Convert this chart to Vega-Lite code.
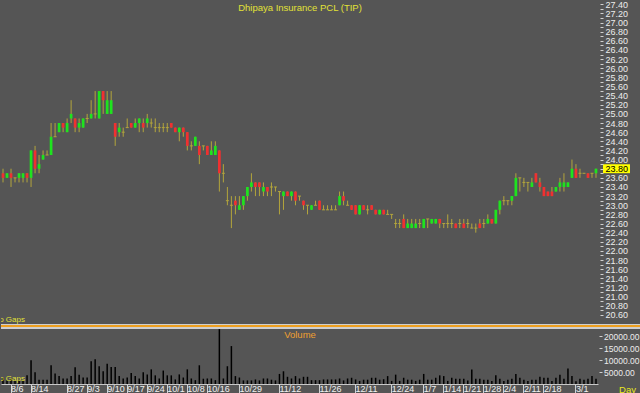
{
  "$schema": "https://vega.github.io/schema/vega-lite/v6.json",
  "background": "#555555",
  "padding": 0,
  "spacing": 0,
  "config": {
    "view": {"stroke": null},
    "axis": {"labelFont": "Liberation Sans", "titleFont": "Liberation Sans", "grid": false, "labelOverlap": false, "labelBound": false},
    "text": {"font": "Liberation Sans"}
  },
  "data": {"values": [
    {"d":"8/2","o":23.7,"h":23.8,"l":23.5,"c":23.6,"v":2500},
    {"d":"8/3","o":23.6,"h":23.7,"l":23.6,"c":23.7,"v":1500},
    {"d":"8/6","o":23.7,"h":23.8,"l":23.4,"c":23.6,"v":2300},
    {"d":"8/7","o":23.6,"h":23.6,"l":23.5,"c":23.6,"v":1400},
    {"d":"8/8","o":23.6,"h":23.7,"l":23.5,"c":23.7,"v":1600},
    {"d":"8/9","o":23.6,"h":23.7,"l":23.5,"c":23.7,"v":1500},
    {"d":"8/10","o":23.7,"h":23.7,"l":23.5,"c":23.6,"v":3600},
    {"d":"8/14","o":23.6,"h":24.2,"l":23.4,"c":24.2,"v":9900},
    {"d":"8/15","o":24.2,"h":24.3,"l":23.7,"c":23.8,"v":4900},
    {"d":"8/16","o":23.8,"h":24.1,"l":23.7,"c":23.9,"v":1800},
    {"d":"8/17","o":24.0,"h":24.2,"l":24.0,"c":24.1,"v":1800},
    {"d":"8/20","o":24.1,"h":24.2,"l":24.1,"c":24.1,"v":1800},
    {"d":"8/21","o":24.1,"h":24.8,"l":24.1,"c":24.5,"v":7800},
    {"d":"8/22","o":24.5,"h":24.8,"l":24.5,"c":24.5,"v":4400},
    {"d":"8/23","o":24.6,"h":24.8,"l":24.6,"c":24.8,"v":3300},
    {"d":"8/24","o":24.8,"h":24.8,"l":24.6,"c":24.7,"v":2300},
    {"d":"8/27","o":24.6,"h":24.9,"l":24.6,"c":24.8,"v":2300},
    {"d":"8/28","o":24.9,"h":25.3,"l":24.8,"c":25.0,"v":3300},
    {"d":"8/29","o":24.9,"h":24.9,"l":24.6,"c":24.7,"v":7000},
    {"d":"8/30","o":24.7,"h":24.9,"l":24.6,"c":24.8,"v":3900},
    {"d":"8/31","o":24.7,"h":24.9,"l":24.7,"c":24.9,"v":2700},
    {"d":"9/3","o":24.9,"h":25.0,"l":24.8,"c":24.9,"v":2700},
    {"d":"9/4","o":24.9,"h":25.3,"l":24.9,"c":25.0,"v":9500},
    {"d":"9/5","o":25.0,"h":25.5,"l":24.9,"c":25.0,"v":10300},
    {"d":"9/6","o":24.9,"h":25.5,"l":24.9,"c":25.5,"v":7400},
    {"d":"9/7","o":25.5,"h":25.5,"l":25.0,"c":25.3,"v":5300},
    {"d":"9/10","o":25.0,"h":25.5,"l":25.0,"c":25.3,"v":8400},
    {"d":"9/11","o":25.0,"h":25.5,"l":25.0,"c":25.3,"v":7100},
    {"d":"9/12","o":24.8,"h":24.8,"l":24.3,"c":24.5,"v":7100},
    {"d":"9/13","o":24.6,"h":24.8,"l":24.5,"c":24.7,"v":3300},
    {"d":"9/14","o":24.6,"h":24.7,"l":24.5,"c":24.6,"v":2300},
    {"d":"9/17","o":24.7,"h":24.9,"l":24.7,"c":24.7,"v":2700},
    {"d":"9/18","o":24.8,"h":24.8,"l":24.7,"c":24.7,"v":4600},
    {"d":"9/19","o":24.7,"h":24.9,"l":24.7,"c":24.8,"v":3300},
    {"d":"9/20","o":24.8,"h":24.9,"l":24.6,"c":24.9,"v":2300},
    {"d":"9/21","o":24.8,"h":24.9,"l":24.6,"c":24.7,"v":4900},
    {"d":"9/24","o":24.8,"h":25.0,"l":24.7,"c":24.9,"v":4000},
    {"d":"9/25","o":24.8,"h":24.9,"l":24.7,"c":24.8,"v":6100},
    {"d":"9/26","o":24.7,"h":24.9,"l":24.6,"c":24.7,"v":3600},
    {"d":"9/27","o":24.7,"h":24.8,"l":24.6,"c":24.7,"v":2300},
    {"d":"9/28","o":24.7,"h":24.8,"l":24.6,"c":24.7,"v":5600},
    {"d":"10/1","o":24.7,"h":24.8,"l":24.6,"c":24.7,"v":3600},
    {"d":"10/2","o":24.8,"h":24.8,"l":24.7,"c":24.7,"v":3600},
    {"d":"10/3","o":24.7,"h":24.7,"l":24.6,"c":24.6,"v":1900},
    {"d":"10/4","o":24.6,"h":24.7,"l":24.4,"c":24.7,"v":4000},
    {"d":"10/5","o":24.7,"h":24.7,"l":24.5,"c":24.6,"v":2700},
    {"d":"10/8","o":24.6,"h":24.6,"l":24.2,"c":24.3,"v":6100},
    {"d":"10/9","o":24.3,"h":24.4,"l":24.2,"c":24.3,"v":2300},
    {"d":"10/10","o":24.3,"h":24.5,"l":24.3,"c":24.5,"v":1600},
    {"d":"10/11","o":24.3,"h":24.4,"l":23.9,"c":24.1,"v":7800},
    {"d":"10/12","o":24.3,"h":24.3,"l":24.2,"c":24.3,"v":2200},
    {"d":"10/16","o":24.3,"h":24.3,"l":24.1,"c":24.1,"v":2300},
    {"d":"10/17","o":24.1,"h":24.4,"l":24.1,"c":24.2,"v":2300},
    {"d":"10/18","o":24.1,"h":24.4,"l":24.1,"c":24.3,"v":1600},
    {"d":"10/19","o":24.2,"h":24.2,"l":23.3,"c":23.7,"v":22900},
    {"d":"10/22","o":23.7,"h":23.9,"l":23.5,"c":23.7,"v":2300},
    {"d":"10/24","o":23.1,"h":23.4,"l":23.0,"c":23.1,"v":7400},
    {"d":"10/25","o":23.0,"h":23.2,"l":22.5,"c":23.0,"v":15800},
    {"d":"10/26","o":23.1,"h":23.2,"l":22.8,"c":23.0,"v":3300},
    {"d":"10/29","o":22.9,"h":23.2,"l":22.9,"c":23.0,"v":2700},
    {"d":"10/30","o":23.0,"h":23.2,"l":22.9,"c":23.2,"v":1500},
    {"d":"10/31","o":23.2,"h":23.4,"l":23.1,"c":23.4,"v":1500},
    {"d":"11/1","o":23.4,"h":23.7,"l":23.3,"c":23.5,"v":1500},
    {"d":"11/2","o":23.5,"h":23.5,"l":23.2,"c":23.4,"v":1900},
    {"d":"11/5","o":23.5,"h":23.5,"l":23.2,"c":23.4,"v":1500},
    {"d":"11/6","o":23.3,"h":23.5,"l":23.2,"c":23.4,"v":2300},
    {"d":"11/7","o":23.4,"h":23.4,"l":23.2,"c":23.3,"v":2300},
    {"d":"11/8","o":23.4,"h":23.5,"l":23.2,"c":23.4,"v":1800},
    {"d":"11/9","o":23.4,"h":23.4,"l":23.3,"c":23.4,"v":1500},
    {"d":"11/12","o":23.3,"h":23.3,"l":22.8,"c":23.3,"v":4200},
    {"d":"11/13","o":23.2,"h":23.3,"l":22.9,"c":23.3,"v":5300},
    {"d":"11/14","o":23.3,"h":23.3,"l":23.2,"c":23.2,"v":3000},
    {"d":"11/15","o":23.2,"h":23.3,"l":23.1,"c":23.3,"v":2300},
    {"d":"11/16","o":23.3,"h":23.3,"l":23.0,"c":23.1,"v":3300},
    {"d":"11/19","o":23.2,"h":23.2,"l":23.1,"c":23.2,"v":2300},
    {"d":"11/20","o":23.1,"h":23.1,"l":22.9,"c":23.0,"v":3000},
    {"d":"11/21","o":23.0,"h":23.0,"l":22.8,"c":23.0,"v":3000},
    {"d":"11/22","o":22.9,"h":23.0,"l":22.9,"c":23.0,"v":1600},
    {"d":"11/23","o":23.0,"h":23.1,"l":23.0,"c":23.0,"v":1600},
    {"d":"11/26","o":23.1,"h":23.1,"l":22.9,"c":22.9,"v":1600},
    {"d":"11/27","o":22.9,"h":23.0,"l":22.9,"c":22.9,"v":1900},
    {"d":"11/28","o":22.9,"h":23.0,"l":22.9,"c":22.9,"v":1900},
    {"d":"11/29","o":22.9,"h":23.0,"l":22.9,"c":22.9,"v":1900},
    {"d":"11/30","o":22.9,"h":23.0,"l":22.9,"c":22.9,"v":1900},
    {"d":"12/3","o":23.0,"h":23.3,"l":23.0,"c":23.2,"v":2300},
    {"d":"12/4","o":23.2,"h":23.3,"l":23.0,"c":23.1,"v":1500},
    {"d":"12/6","o":23.0,"h":23.1,"l":23.0,"c":23.0,"v":2300},
    {"d":"12/7","o":23.0,"h":23.0,"l":22.9,"c":22.9,"v":2600},
    {"d":"12/11","o":23.0,"h":23.0,"l":22.8,"c":22.8,"v":1900},
    {"d":"12/12","o":22.8,"h":23.0,"l":22.8,"c":23.0,"v":1300},
    {"d":"12/13","o":23.0,"h":23.0,"l":22.9,"c":22.9,"v":1800},
    {"d":"12/14","o":22.9,"h":23.0,"l":22.8,"c":22.9,"v":1800},
    {"d":"12/17","o":23.0,"h":23.0,"l":22.9,"c":22.9,"v":2600},
    {"d":"12/18","o":22.9,"h":22.9,"l":22.8,"c":22.8,"v":2600},
    {"d":"12/19","o":22.8,"h":22.9,"l":22.8,"c":22.9,"v":1800},
    {"d":"12/20","o":22.9,"h":22.9,"l":22.8,"c":22.8,"v":2000},
    {"d":"12/21","o":22.8,"h":22.9,"l":22.8,"c":22.8,"v":3300},
    {"d":"12/24","o":22.8,"h":22.8,"l":22.7,"c":22.8,"v":1300},
    {"d":"12/25","o":22.6,"h":22.7,"l":22.5,"c":22.6,"v":3900},
    {"d":"12/26","o":22.6,"h":22.7,"l":22.5,"c":22.6,"v":1300},
    {"d":"12/27","o":22.7,"h":22.8,"l":22.5,"c":22.5,"v":2600},
    {"d":"12/28","o":22.5,"h":22.7,"l":22.5,"c":22.6,"v":1800},
    {"d":"1/2","o":22.5,"h":22.7,"l":22.5,"c":22.6,"v":1800},
    {"d":"1/3","o":22.5,"h":22.7,"l":22.5,"c":22.6,"v":1300},
    {"d":"1/4","o":22.6,"h":22.7,"l":22.5,"c":22.6,"v":1800},
    {"d":"1/7","o":22.5,"h":22.7,"l":22.5,"c":22.7,"v":4200},
    {"d":"1/8","o":22.7,"h":22.7,"l":22.5,"c":22.7,"v":1800},
    {"d":"1/9","o":22.6,"h":22.7,"l":22.6,"c":22.7,"v":1800},
    {"d":"1/10","o":22.6,"h":22.7,"l":22.6,"c":22.7,"v":2600},
    {"d":"1/11","o":22.7,"h":22.7,"l":22.5,"c":22.6,"v":3600},
    {"d":"1/14","o":22.6,"h":22.6,"l":22.5,"c":22.6,"v":3300},
    {"d":"1/15","o":22.6,"h":22.8,"l":22.5,"c":22.6,"v":1300},
    {"d":"1/16","o":22.6,"h":22.7,"l":22.5,"c":22.6,"v":2600},
    {"d":"1/17","o":22.6,"h":22.6,"l":22.5,"c":22.5,"v":2200},
    {"d":"1/18","o":22.6,"h":22.7,"l":22.5,"c":22.6,"v":2200},
    {"d":"1/21","o":22.6,"h":22.7,"l":22.5,"c":22.5,"v":2200},
    {"d":"1/22","o":22.6,"h":22.7,"l":22.5,"c":22.6,"v":1500},
    {"d":"1/23","o":22.5,"h":22.6,"l":22.5,"c":22.5,"v":6000},
    {"d":"1/24","o":22.5,"h":22.6,"l":22.4,"c":22.5,"v":2200},
    {"d":"1/25","o":22.6,"h":22.7,"l":22.5,"c":22.5,"v":2200},
    {"d":"1/28","o":22.6,"h":22.7,"l":22.5,"c":22.6,"v":1800},
    {"d":"1/29","o":22.6,"h":22.8,"l":22.6,"c":22.7,"v":1800},
    {"d":"1/30","o":22.7,"h":22.7,"l":22.6,"c":22.6,"v":1300},
    {"d":"1/31","o":22.6,"h":22.9,"l":22.6,"c":22.9,"v":3600},
    {"d":"2/1","o":22.9,"h":23.1,"l":22.8,"c":23.1,"v":2200},
    {"d":"2/4","o":23.1,"h":23.2,"l":23.0,"c":23.1,"v":1300},
    {"d":"2/5","o":23.1,"h":23.1,"l":23.0,"c":23.1,"v":1800},
    {"d":"2/6","o":23.1,"h":23.2,"l":23.0,"c":23.2,"v":2200},
    {"d":"2/7","o":23.2,"h":23.7,"l":23.2,"c":23.6,"v":4200},
    {"d":"2/8","o":23.6,"h":23.6,"l":23.3,"c":23.6,"v":2600},
    {"d":"2/11","o":23.5,"h":23.6,"l":23.4,"c":23.5,"v":1800},
    {"d":"2/12","o":23.5,"h":23.5,"l":23.3,"c":23.5,"v":1300},
    {"d":"2/13","o":23.4,"h":23.6,"l":23.4,"c":23.5,"v":1800},
    {"d":"2/14","o":23.7,"h":23.7,"l":23.5,"c":23.5,"v":1800},
    {"d":"2/15","o":23.5,"h":23.6,"l":23.3,"c":23.4,"v":3000},
    {"d":"2/18","o":23.4,"h":23.4,"l":23.2,"c":23.2,"v":2600},
    {"d":"2/20","o":23.3,"h":23.3,"l":23.2,"c":23.2,"v":2600},
    {"d":"2/21","o":23.3,"h":23.4,"l":23.2,"c":23.2,"v":1300},
    {"d":"2/22","o":23.3,"h":23.4,"l":23.3,"c":23.4,"v":2600},
    {"d":"2/25","o":23.4,"h":23.6,"l":23.3,"c":23.5,"v":3900},
    {"d":"2/26","o":23.4,"h":23.7,"l":23.3,"c":23.5,"v":2200},
    {"d":"2/27","o":23.4,"h":23.5,"l":23.4,"c":23.5,"v":6500},
    {"d":"2/28","o":23.6,"h":24.0,"l":23.6,"c":23.8,"v":3300},
    {"d":"3/1","o":23.8,"h":23.9,"l":23.6,"c":23.6,"v":1100},
    {"d":"3/4","o":23.7,"h":23.8,"l":23.6,"c":23.7,"v":2200},
    {"d":"3/5","o":23.7,"h":23.7,"l":23.7,"c":23.7,"v":1800},
    {"d":"3/6","o":23.7,"h":23.7,"l":23.6,"c":23.6,"v":2200},
    {"d":"3/7","o":23.7,"h":23.7,"l":23.6,"c":23.7,"v":3300},
    {"d":"3/8","o":23.7,"h":23.8,"l":23.6,"c":23.8,"v":2200}
  ]},
  "vconcat": [
    {
      "width": 640,
      "height": 323,
      "layer": [
        {
          "mark": {"type": "rule", "color": "#b3a53c", "strokeWidth": 1},
          "encoding": {
            "x": {"field": "d", "type": "ordinal", "sort": null, "scale": {"paddingInner": 0, "paddingOuter": 0, "range": [0, 597]}, "axis": null},
            "y": {"field": "l", "type": "quantitative", "scale": {"domain": [20.4, 27.472], "nice": false, "zero": false},
              "axis": {"orient": "right", "offset": -41, "domain": false, "tickSize": 3, "tickCount": 200, "tickColor": "#d0d0d0", "labelFontSize": 9, "labelPadding": 2, "labelOverlap": false, "zindex": 1,
                "values": [20.6,20.7,20.8,20.9,21.0,21.1,21.2,21.3,21.4,21.5,21.6,21.7,21.8,21.9,22.0,22.1,22.2,22.3,22.4,22.5,22.6,22.7,22.8,22.9,23.0,23.1,23.2,23.3,23.4,23.5,23.6,23.7,23.8,23.9,24.0,24.1,24.2,24.3,24.4,24.5,24.6,24.7,24.8,24.9,25.0,25.1,25.2,25.3,25.4,25.5,25.6,25.7,25.8,25.9,26.0,26.1,26.2,26.3,26.4,26.5,26.6,26.7,26.8,26.9,27.0,27.1,27.2,27.3,27.4],
                "labelExpr": "round(datum.value*10) % 2 == 0 ? format(datum.value, '.2f') : ''",
                "labelColor": {"condition": {"test": "abs(datum.value - 23.8) < 0.001", "value": "#000000"}, "value": "#ececec"},
                "title": "Dhipaya Insurance PCL (TIP)", "titleAngle": 0, "titleX": -300.5, "titleY": 9, "titleAlign": "center", "titleBaseline": "alphabetic", "titleColor": "#e2e236", "titleFontSize": 9.5, "titleFontWeight": "normal"}},
            "y2": {"field": "h"}
          }
        },
        {
          "transform": [{"filter": "datum.o != datum.c"}],
          "mark": {"type": "bar", "width": {"band": 0.68}},
          "encoding": {
            "x": {"field": "d", "type": "ordinal", "sort": null},
            "y": {"field": "o", "type": "quantitative"},
            "y2": {"field": "c"},
            "color": {"condition": {"test": "datum.c > datum.o", "value": "#1ee41e"}, "value": "#f03030"}
          }
        },
        {
          "transform": [{"filter": "datum.o == datum.c"}],
          "mark": {"type": "tick", "color": "#b3a53c", "size": 3, "thickness": 1, "opacity": 1},
          "encoding": {
            "x": {"field": "d", "type": "ordinal", "sort": null},
            "y": {"field": "c", "type": "quantitative"}
          }
        },
        {
          "transform": [{"filter": "datum.d == '3/8'"}],
          "mark": {"type": "point", "shape": "M-1,-0.33H1V0.33H-1Z", "size": 729, "filled": true, "color": "#ffff00", "opacity": 1, "strokeWidth": 0, "xOffset": 20.5},
          "encoding": {
            "x": {"field": "d", "type": "ordinal", "sort": null},
            "y": {"field": "c", "type": "quantitative"}
          }
        },
        {
          "transform": [{"filter": "datum.d == '8/2'"}],
          "mark": {"type": "text", "text": "No Gaps", "color": "#e2e236", "fontSize": 8, "align": "right", "baseline": "alphabetic", "dx": 22, "clip": true},
          "encoding": {
            "x": {"field": "d", "type": "ordinal", "sort": null},
            "y": {"datum": 20.45}
          }
        }
      ]
    },
    {
      "width": 640,
      "height": 60,
      "layer": [
        {
          "mark": {"type": "bar", "color": "#000000", "size": 1.5},
          "encoding": {
            "x": {"field": "d", "type": "ordinal", "sort": null, "scale": {"paddingInner": 0, "paddingOuter": 0, "range": [0, 597]},
              "axis": {"values": ["8/6","8/14","8/27","9/3","9/10","9/17","9/24","10/1","10/8","10/16","10/29","11/12","11/26","12/11","12/24","1/7","1/14","1/21","1/28","2/4","2/11","2/18","3/1"],
                "labelAngle": 0, "labelAlign": "left", "labelDx": 1.5, "labelBaseline": "alphabetic", "labelPadding": -3.2, "tickSize": 11, "tickColor": "#d0d0d0", "domainColor": "#c8c8c8", "labelColor": "#f0f0f0", "labelFontSize": 9, "labelOverlap": false,
                "title": "Day", "titleColor": "#eaea20", "titleFontSize": 9.5, "titleFontWeight": "normal", "titleX": 626, "titleY": 8, "titleBaseline": "alphabetic", "titleAlign": "center", "zindex": 1}},
            "y": {"field": "v", "type": "quantitative", "scale": {"domain": [0, 25000], "nice": false},
              "axis": {"orient": "right", "offset": -42, "values": [5000, 10000, 15000, 20000], "tickCount": 20, "format": ".2f", "domain": false, "tickSize": 3, "tickColor": "#d0d0d0", "labelColor": "#ececec", "labelFontSize": 8.5, "labelPadding": 1.5, "labelOverlap": false, "zindex": 1,
                "title": "Volume", "titleAngle": 0, "titleX": -299.5, "titleY": 13.5, "titleAlign": "center", "titleBaseline": "alphabetic", "titleColor": "#f0a030", "titleFontSize": 9.5, "titleFontWeight": "normal"}}
          }
        },
        {
          "mark": {"type": "rule", "color": "#cfcfcf", "strokeWidth": 1.5},
          "encoding": {"y": {"datum": 24583}}
        },
        {
          "mark": {"type": "rule", "color": "#f0a020", "strokeWidth": 1.8},
          "encoding": {"y": {"datum": 23917}}
        },
        {
          "mark": {"type": "rule", "color": "#cfcfcf", "strokeWidth": 1.5},
          "encoding": {"y": {"datum": 23208}}
        },
        {
          "transform": [{"filter": "datum.d == '8/2'"}],
          "mark": {"type": "text", "text": "No Gaps", "color": "#e2e236", "fontSize": 8, "align": "right", "baseline": "alphabetic", "dx": 22, "clip": true},
          "encoding": {
            "x": {"field": "d", "type": "ordinal", "sort": null},
            "y": {"datum": 1250}
          }
        }
      ]
    }
  ]
}
